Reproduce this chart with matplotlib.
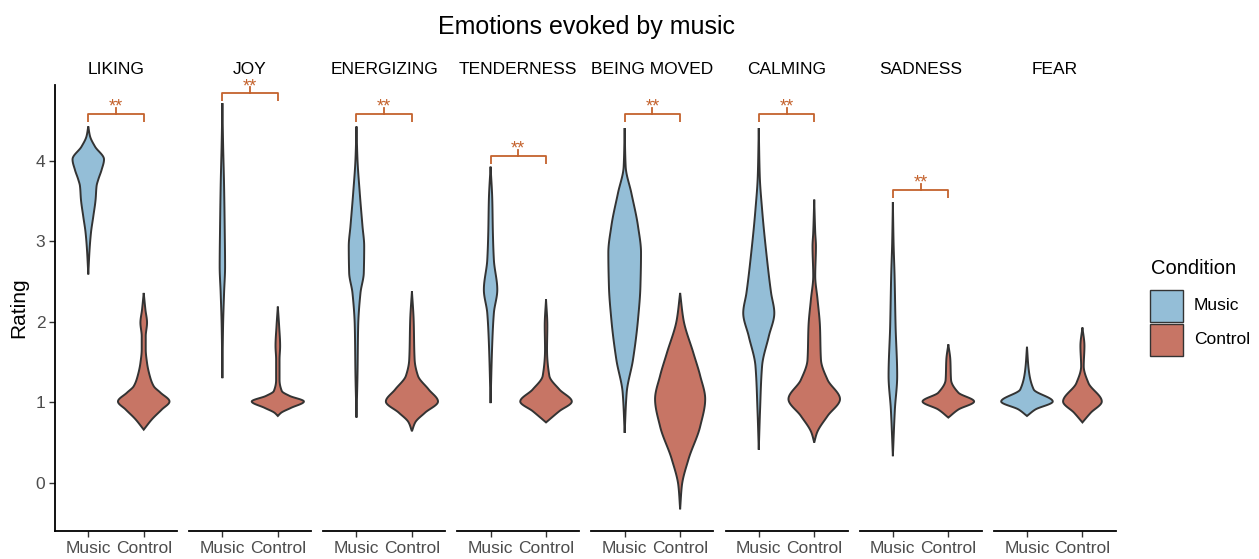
import numpy as np
import matplotlib
matplotlib.use("Agg")
import matplotlib.pyplot as plt
from matplotlib.patches import Rectangle

plt.rcParams["font.family"] = ["Liberation Sans", "DejaVu Sans"]

# ---------------- data ----------------
emotions = ["LIKING", "JOY", "ENERGIZING", "TENDERNESS",
            "BEING MOVED", "CALMING", "SADNESS", "FEAR"]
conditions = ["Music", "Control"]
y_ticks = [0, 1, 2, 3, 4]
# significance bracket height (rating units); None = not significant
bracket_rating = [4.58, 4.84, 4.58, 4.06, 4.58, 4.58, 3.64, None]
sig_label = "**"

# violin profiles: rating values and kernel density (relative)
liking_music_rating = [4.43, 4.31, 4.18, 4.02, 3.89, 3.77, 3.69, 3.52, 3.31, 3.11, 2.90, 2.59]
liking_music_density = [0, 1.7, 6.7, 15.7, 13.3, 10, 8.3, 7.3, 5, 2.7, 1.3, 0]
liking_control_rating = [2.36, 2.15, 1.99, 1.82, 1.66, 1.49, 1.33, 1.20, 1.12, 1.01, 0.91, 0.79, 0.66]
liking_control_density = [0, 1.7, 3.3, 2.0, 2.0, 3.3, 6, 10, 16.7, 25.7, 18, 8.3, 0]

joy_music_rating = [4.72, 4.22, 3.69, 3.19, 2.69, 2.36, 1.95, 1.30]
joy_music_density = [0, 0.7, 1.7, 2.3, 2.7, 1.7, 0.7, 0]
joy_control_rating = [2.19, 1.95, 1.70, 1.53, 1.28, 1.14, 1.08, 1.01, 0.93, 0.87, 0.83]
joy_control_density = [0, 1.3, 2.3, 1.7, 1.7, 4, 11.7, 26, 13, 3.3, 0]

energizing_music_rating = [4.43, 4.02, 3.60, 3.19, 2.94, 2.61, 2.36, 1.95, 1.33, 0.81]
energizing_music_density = [0, 1, 3.3, 6, 7.7, 7.3, 4, 1.7, 1, 0]
energizing_control_rating = [2.38, 2.03, 1.53, 1.33, 1.16, 1.01, 0.87, 0.75, 0.64]
energizing_control_density = [0, 1.7, 2.7, 6, 16.7, 26, 13, 3.3, 0]

tenderness_music_rating = [3.93, 3.52, 3.11, 2.77, 2.40, 2.11, 1.74, 0.99]
tenderness_music_density = [0, 1.7, 2.3, 3.3, 6.7, 3.3, 1.7, 0]
tenderness_control_rating = [2.28, 1.95, 1.66, 1.33, 1.16, 1.01, 0.89, 0.75]
tenderness_control_density = [0, 1.3, 1.0, 3.3, 13.3, 25.7, 13.3, 0]

moved_music_rating = [4.41, 3.93, 3.60, 3.19, 2.86, 2.44, 2.03, 1.53, 1.12, 0.62]
moved_music_density = [0, 1, 6.7, 13.3, 16.3, 15.7, 13.3, 8.3, 2, 0]
moved_control_rating = [2.36, 2.03, 1.61, 1.33, 1.04, 0.70, 0.29, -0.04, -0.33]
moved_control_density = [0, 3.3, 13.3, 20, 25, 20, 8.3, 1.7, 0]

calming_music_rating = [4.41, 3.81, 3.40, 2.77, 2.36, 2.11, 1.82, 1.45, 0.91, 0.41]
calming_music_density = [0, 1, 3.3, 8.3, 12.3, 15.5, 10, 3.3, 1.3, 0]
calming_control_rating = [3.52, 3.11, 2.94, 2.57, 2.28, 1.95, 1.53, 1.28, 1.04, 0.83, 0.62, 0.50]
calming_control_density = [0, 1, 1.7, 1, 3.3, 5.7, 6.7, 13.3, 25.7, 13.3, 2.7, 0]

sadness_music_rating = [3.49, 2.98, 2.57, 1.95, 1.33, 0.91, 0.33]
sadness_music_density = [0, 0.7, 1.7, 2.7, 4.3, 2, 0]
sadness_control_rating = [1.72, 1.53, 1.28, 1.12, 1.01, 0.91, 0.81]
sadness_control_density = [0, 2, 2.7, 10, 25.7, 10, 0]

fear_music_rating = [1.69, 1.41, 1.16, 1.01, 0.91, 0.83]
fear_music_density = [0, 1.7, 6.7, 25.7, 8.3, 0]
fear_control_rating = [1.93, 1.70, 1.45, 1.24, 1.01, 0.87, 0.75]
fear_control_density = [0, 2, 1.3, 6, 19.3, 8.3, 0]

violins = [
    [(liking_music_rating, liking_music_density), (liking_control_rating, liking_control_density)],
    [(joy_music_rating, joy_music_density), (joy_control_rating, joy_control_density)],
    [(energizing_music_rating, energizing_music_density), (energizing_control_rating, energizing_control_density)],
    [(tenderness_music_rating, tenderness_music_density), (tenderness_control_rating, tenderness_control_density)],
    [(moved_music_rating, moved_music_density), (moved_control_rating, moved_control_density)],
    [(calming_music_rating, calming_music_density), (calming_control_rating, calming_control_density)],
    [(sadness_music_rating, sadness_music_density), (sadness_control_rating, sadness_control_density)],
    [(fear_music_rating, fear_music_density), (fear_control_rating, fear_control_density)],
]

# ---------------- styles ----------------
fill_colors = ["#94bed7", "#c77565"]
edge_color = "#333333"
sig_color = "#c4622d"
tick_text_color = "#4d4d4d"
W, H = 1259, 559


def pchip(x, y, xn):
    x = np.asarray(x, float)
    y = np.asarray(y, float)
    h = np.diff(x)
    d = np.diff(y) / h
    m = np.zeros_like(y)
    for k in range(1, len(x) - 1):
        if d[k - 1] * d[k] <= 0:
            m[k] = 0.0
        else:
            w1 = 2 * h[k] + h[k - 1]
            w2 = h[k] + 2 * h[k - 1]
            m[k] = (w1 + w2) / (w1 / d[k - 1] + w2 / d[k])
    m[0] = d[0]
    m[-1] = d[-1]
    i = np.clip(np.searchsorted(x, xn) - 1, 0, len(x) - 2)
    t = (xn - x[i]) / h[i]
    h00 = 2 * t**3 - 3 * t**2 + 1
    h10 = t**3 - 2 * t**2 + t
    h01 = -2 * t**3 + 3 * t**2
    h11 = t**3 - t**2
    return h00 * y[i] + h10 * h[i] * m[i] + h01 * y[i + 1] + h11 * h[i] * m[i + 1]


max_density = max(max(d) for pair in violins for (_, d) in pair)
max_half_width = 0.47

fig = plt.figure(figsize=(W / 100, H / 100), dpi=100)

ylim = (-0.6, 4.945)
panel_left0, panel_step, panel_w = 55, 134.1, 122
ax_bottom_px, ax_top_px = 531, 85

for i, emo in enumerate(emotions):
    left = panel_left0 + i * panel_step
    ax = fig.add_axes([left / W, (H - ax_bottom_px) / H, panel_w / W,
                       (ax_bottom_px - ax_top_px) / H])
    ax.set_xlim(0.4, 2.6)
    ax.set_ylim(*ylim)
    for s in ["top", "right"]:
        ax.spines[s].set_visible(False)
    ax.spines["bottom"].set_linewidth(1.3)
    ax.spines["bottom"].set_color("black")
    if i == 0:
        ax.spines["left"].set_linewidth(1.3)
        ax.spines["left"].set_color("black")
        ax.set_yticks(y_ticks)
        ax.set_yticklabels([str(v) for v in y_ticks], fontsize=12.5, color=tick_text_color)
        ax.tick_params(axis="y", length=4, width=1, color="#333333", pad=3)
        ax.set_ylabel("Rating", fontsize=15, labelpad=5)
    else:
        ax.spines["left"].set_visible(False)
        ax.set_yticks([])
    ax.set_xticks([1, 2])
    ax.set_xticklabels(conditions, fontsize=12.5, color=tick_text_color)
    ax.tick_params(axis="x", length=4, width=1, color="#333333", pad=3)
    ax.set_title(emo, fontsize=12.5, pad=8)

    for j, (rat, dens) in enumerate(violins[i]):
        r = np.asarray(rat, float)
        d = np.asarray(dens, float)
        order = np.argsort(r)
        r, d = r[order], d[order]
        yy = np.linspace(r[0], r[-1], 400)
        hw = np.clip(pchip(r, d, yy), 0, None) / max_density * max_half_width
        pos = j + 1
        xs = np.concatenate([pos - hw, (pos + hw)[::-1]])
        ys = np.concatenate([yy, yy[::-1]])
        ax.fill(xs, ys, facecolor=fill_colors[j], edgecolor=edge_color,
                linewidth=1.4, zorder=2)

    b = bracket_rating[i]
    if b is not None:
        ax.plot([1, 1, 2, 2], [b - 0.1, b, b, b - 0.1], color=sig_color,
                lw=1.3, clip_on=False, solid_capstyle="butt")
        ax.plot([1.5, 1.5], [b, b + 0.075], color=sig_color, lw=1.3, clip_on=False)
        ax.text(1.5, b + 0.03, sig_label, color=sig_color, fontsize=13,
                ha="center", va="baseline", clip_on=False)

fig.text(586 / W, 1 - 27 / H, "Emotions evoked by music", fontsize=18,
         ha="center", va="center")

# legend
fig.text(1151 / W, 1 - 268 / H, "Condition", fontsize=14.5, ha="left", va="center")
key_x, key_w, key_h = 1150, 33, 32
for j, (lab, col) in enumerate(zip(conditions, fill_colors)):
    top = 290 + j * 34
    fig.add_artist(Rectangle((key_x / W, 1 - (top + key_h) / H), key_w / W, key_h / H,
                             transform=fig.transFigure, facecolor=col,
                             edgecolor="#333333", linewidth=1.0))
    fig.text(1194 / W, 1 - (top + key_h / 2) / H, lab, fontsize=12.5,
             ha="left", va="center")

fig.savefig("out.png", dpi=100)
